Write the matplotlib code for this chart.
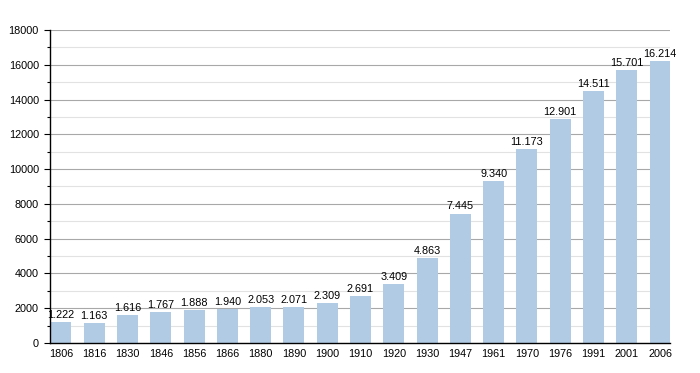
import matplotlib
matplotlib.use("Agg")
import matplotlib.pyplot as plt
from matplotlib.ticker import MultipleLocator

plt.rcParams['font.family'] = ['Liberation Sans', 'DejaVu Sans']

years = ["1806", "1816", "1830", "1846", "1856", "1866", "1880", "1890", "1900", "1910",
         "1920", "1930", "1947", "1961", "1970", "1976", "1991", "2001", "2006"]
population = [1222, 1163, 1616, 1767, 1888, 1940, 2053, 2071, 2309, 2691,
              3409, 4863, 7445, 9340, 11173, 12901, 14511, 15701, 16214]

fig = plt.figure(figsize=(7, 3.73), dpi=100)
ax = fig.add_axes([50/700, 30/373, 620/700, 313/373])

x = list(range(len(years)))
bars = ax.bar(x, population, width=0.63, color="#b1cbe5", zorder=3)
for xi, v in zip(x, population):
    ax.text(xi, v + 120, f"{v:,}".replace(",", "."), ha="center", va="bottom",
            fontsize=7.8, color="black", zorder=4)

ax.set_xlim(-0.33, len(years) - 0.7)
ax.set_ylim(0, 18000)
ax.set_xticks(x)
ax.set_xticklabels(years, fontsize=7.8)
ax.yaxis.set_major_locator(MultipleLocator(2000))
ax.yaxis.set_minor_locator(MultipleLocator(1000))
ax.tick_params(axis="y", which="major", labelsize=7.8, length=4, width=0.8, direction="out", pad=4)
ax.tick_params(axis="y", which="minor", length=2.5, width=0.8, direction="out")
ax.tick_params(axis="x", length=0, pad=4)
ax.grid(axis="y", which="major", color="#a8a8a8", linewidth=0.8, zorder=0)
ax.grid(axis="y", which="minor", color="#e2e2e2", linewidth=0.8, zorder=0)
for s in ["top", "right"]:
    ax.spines[s].set_visible(False)
ax.spines["left"].set_linewidth(1.0)
ax.spines["bottom"].set_linewidth(1.0)
ax.spines["left"].set_zorder(5)
ax.spines["bottom"].set_zorder(5)

fig.savefig("out.png", dpi=100)
